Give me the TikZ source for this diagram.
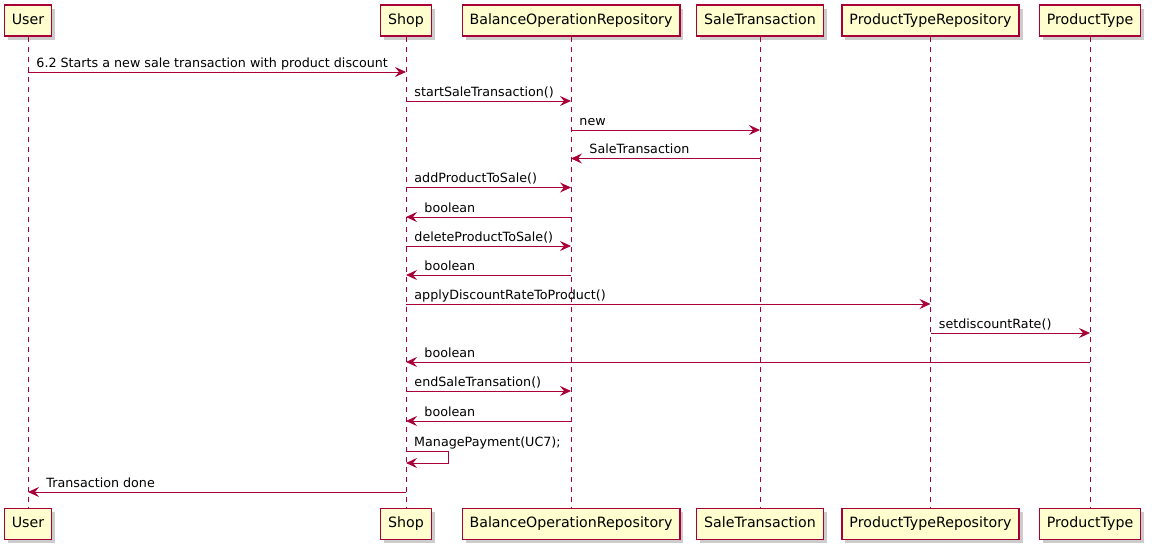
\documentclass[tikz,border=0pt]{standalone}
\usepackage{fontspec}
\setmainfont{DejaVu Sans}
\usepackage{xcolor}
\usepackage{tikz}
\usetikzlibrary{arrows.meta,shadows}
\definecolor{umlred}{HTML}{A80036}
\definecolor{umlfill}{HTML}{FEFECE}

\begin{document}
\begin{tikzpicture}[x=1pt,y=-1pt,
  actor/.style={draw=umlred,fill=umlfill,line width=1.2pt,minimum height=31pt,inner xsep=7.5pt,
    text height=10.5pt,text depth=3pt,font=\fontsize{14.2}{16}\selectfont,
    drop shadow={shadow xshift=3.5pt,shadow yshift=-3.5pt,opacity=0.4}},
  life/.style={umlred,line width=0.8pt,dash pattern=on 5pt off 5pt},
  msg/.style={umlred,line width=0.9pt,-{Stealth[length=11pt,width=10pt,inset=4pt]}},
  lbl/.style={font=\fontsize{12.7}{15}\selectfont,inner sep=0pt,anchor=base west,text=black}]
\useasboundingbox (0,0) rectangle (1155,552);

% participants
\node[actor] (userT) at (28,20.5) {User};
\node[actor] (shopT) at (406,20.5) {Shop};
\node[actor] (borT) at (571,20.5) {BalanceOperationRepository};
\node[actor] (stT) at (760,20.5) {SaleTransaction};
\node[actor] (ptrT) at (930.5,20.5) {ProductTypeRepository};
\node[actor] (ptT) at (1090,20.5) {ProductType};

\node[actor] (userB) at (28,524) {User};
\node[actor] (shopB) at (406,524) {Shop};
\node[actor] (borB) at (571,524) {BalanceOperationRepository};
\node[actor] (stB) at (760,524) {SaleTransaction};
\node[actor] (ptrB) at (930.5,524) {ProductTypeRepository};
\node[actor] (ptB) at (1090,524) {ProductType};

% lifelines
\draw[life] (userT) -- (userB);
\draw[life] (shopT) -- (shopB);
\draw[life] (borT) -- (borB);
\draw[life] (stT) -- (stB);
\draw[life] (ptrT) -- (ptrB);
\draw[life] (ptT) -- (ptB);

% rows
\coordinate (r1) at (0,72);
\coordinate (r2) at (0,101);
\coordinate (r3) at (0,130);
\coordinate (r4) at (0,158.5);
\coordinate (r5) at (0,187.5);
\coordinate (r6) at (0,217);
\coordinate (r7) at (0,246);
\coordinate (r8) at (0,275);
\coordinate (r9) at (0,304);
\coordinate (r10) at (0,333);
\coordinate (r11) at (0,362);
\coordinate (r12) at (0,391);
\coordinate (r13) at (0,421);
\coordinate (r14) at (0,451);
\coordinate (r15) at (0,463);
\coordinate (r16) at (0,492);

% messages
\draw[msg] (userT |- r1) -- (shopT |- r1) node[lbl,pos=0,xshift=8pt,yshift=5pt] (t1) {6.2 Starts a new sale transaction with product discount};
\draw[msg] (shopT |- r2) -- (borT |- r2) node[lbl,pos=0,xshift=8pt,yshift=5pt] (t2) {startSaleTransaction()};
\draw[msg] (borT |- r3) -- (stT |- r3) node[lbl,pos=0,xshift=8pt,yshift=5pt] (t3) {new};
\draw[msg] (stT |- r4) -- (borT |- r4) node[lbl,pos=1,xshift=18pt,yshift=5pt] (t4) {SaleTransaction};
\draw[msg] (shopT |- r5) -- (borT |- r5) node[lbl,pos=0,xshift=8pt,yshift=5pt] (t5) {addProductToSale()};
\draw[msg] (borT |- r6) -- (shopT |- r6) node[lbl,pos=1,xshift=18pt,yshift=5pt] (t6) {boolean};
\draw[msg] (shopT |- r7) -- (borT |- r7) node[lbl,pos=0,xshift=8pt,yshift=5pt] (t7) {deleteProductToSale()};
\draw[msg] (borT |- r8) -- (shopT |- r8) node[lbl,pos=1,xshift=18pt,yshift=5pt] (t8) {boolean};
\draw[msg] (shopT |- r9) -- (ptrT |- r9) node[lbl,pos=0,xshift=8pt,yshift=5pt] (t9) {applyDiscountRateToProduct()};
\draw[msg] (ptrT |- r10) -- (ptT |- r10) node[lbl,pos=0,xshift=8pt,yshift=5pt] (t10) {setdiscountRate()};
\draw[msg] (ptT |- r11) -- (shopT |- r11) node[lbl,pos=1,xshift=18pt,yshift=5pt] (t11) {boolean};
\draw[msg] (shopT |- r12) -- (borT |- r12) node[lbl,pos=0,xshift=8pt,yshift=5pt] (t12) {endSaleTransation()};
\draw[msg] (borT |- r13) -- (shopT |- r13) node[lbl,pos=1,xshift=18pt,yshift=5pt] (t13) {boolean};
\draw[msg] (shopT |- r14) -- ++(42,0) -- ++(0,12) -- (shopT |- r15);
\node[lbl] (t14) at ([xshift=8pt,yshift=5pt]shopT |- r14) {ManagePayment(UC7);};
\draw[msg] (shopT |- r16) -- (userT |- r16) node[lbl,pos=1,xshift=18pt,yshift=5pt] (t16) {Transaction done};

\end{tikzpicture}
\end{document}
